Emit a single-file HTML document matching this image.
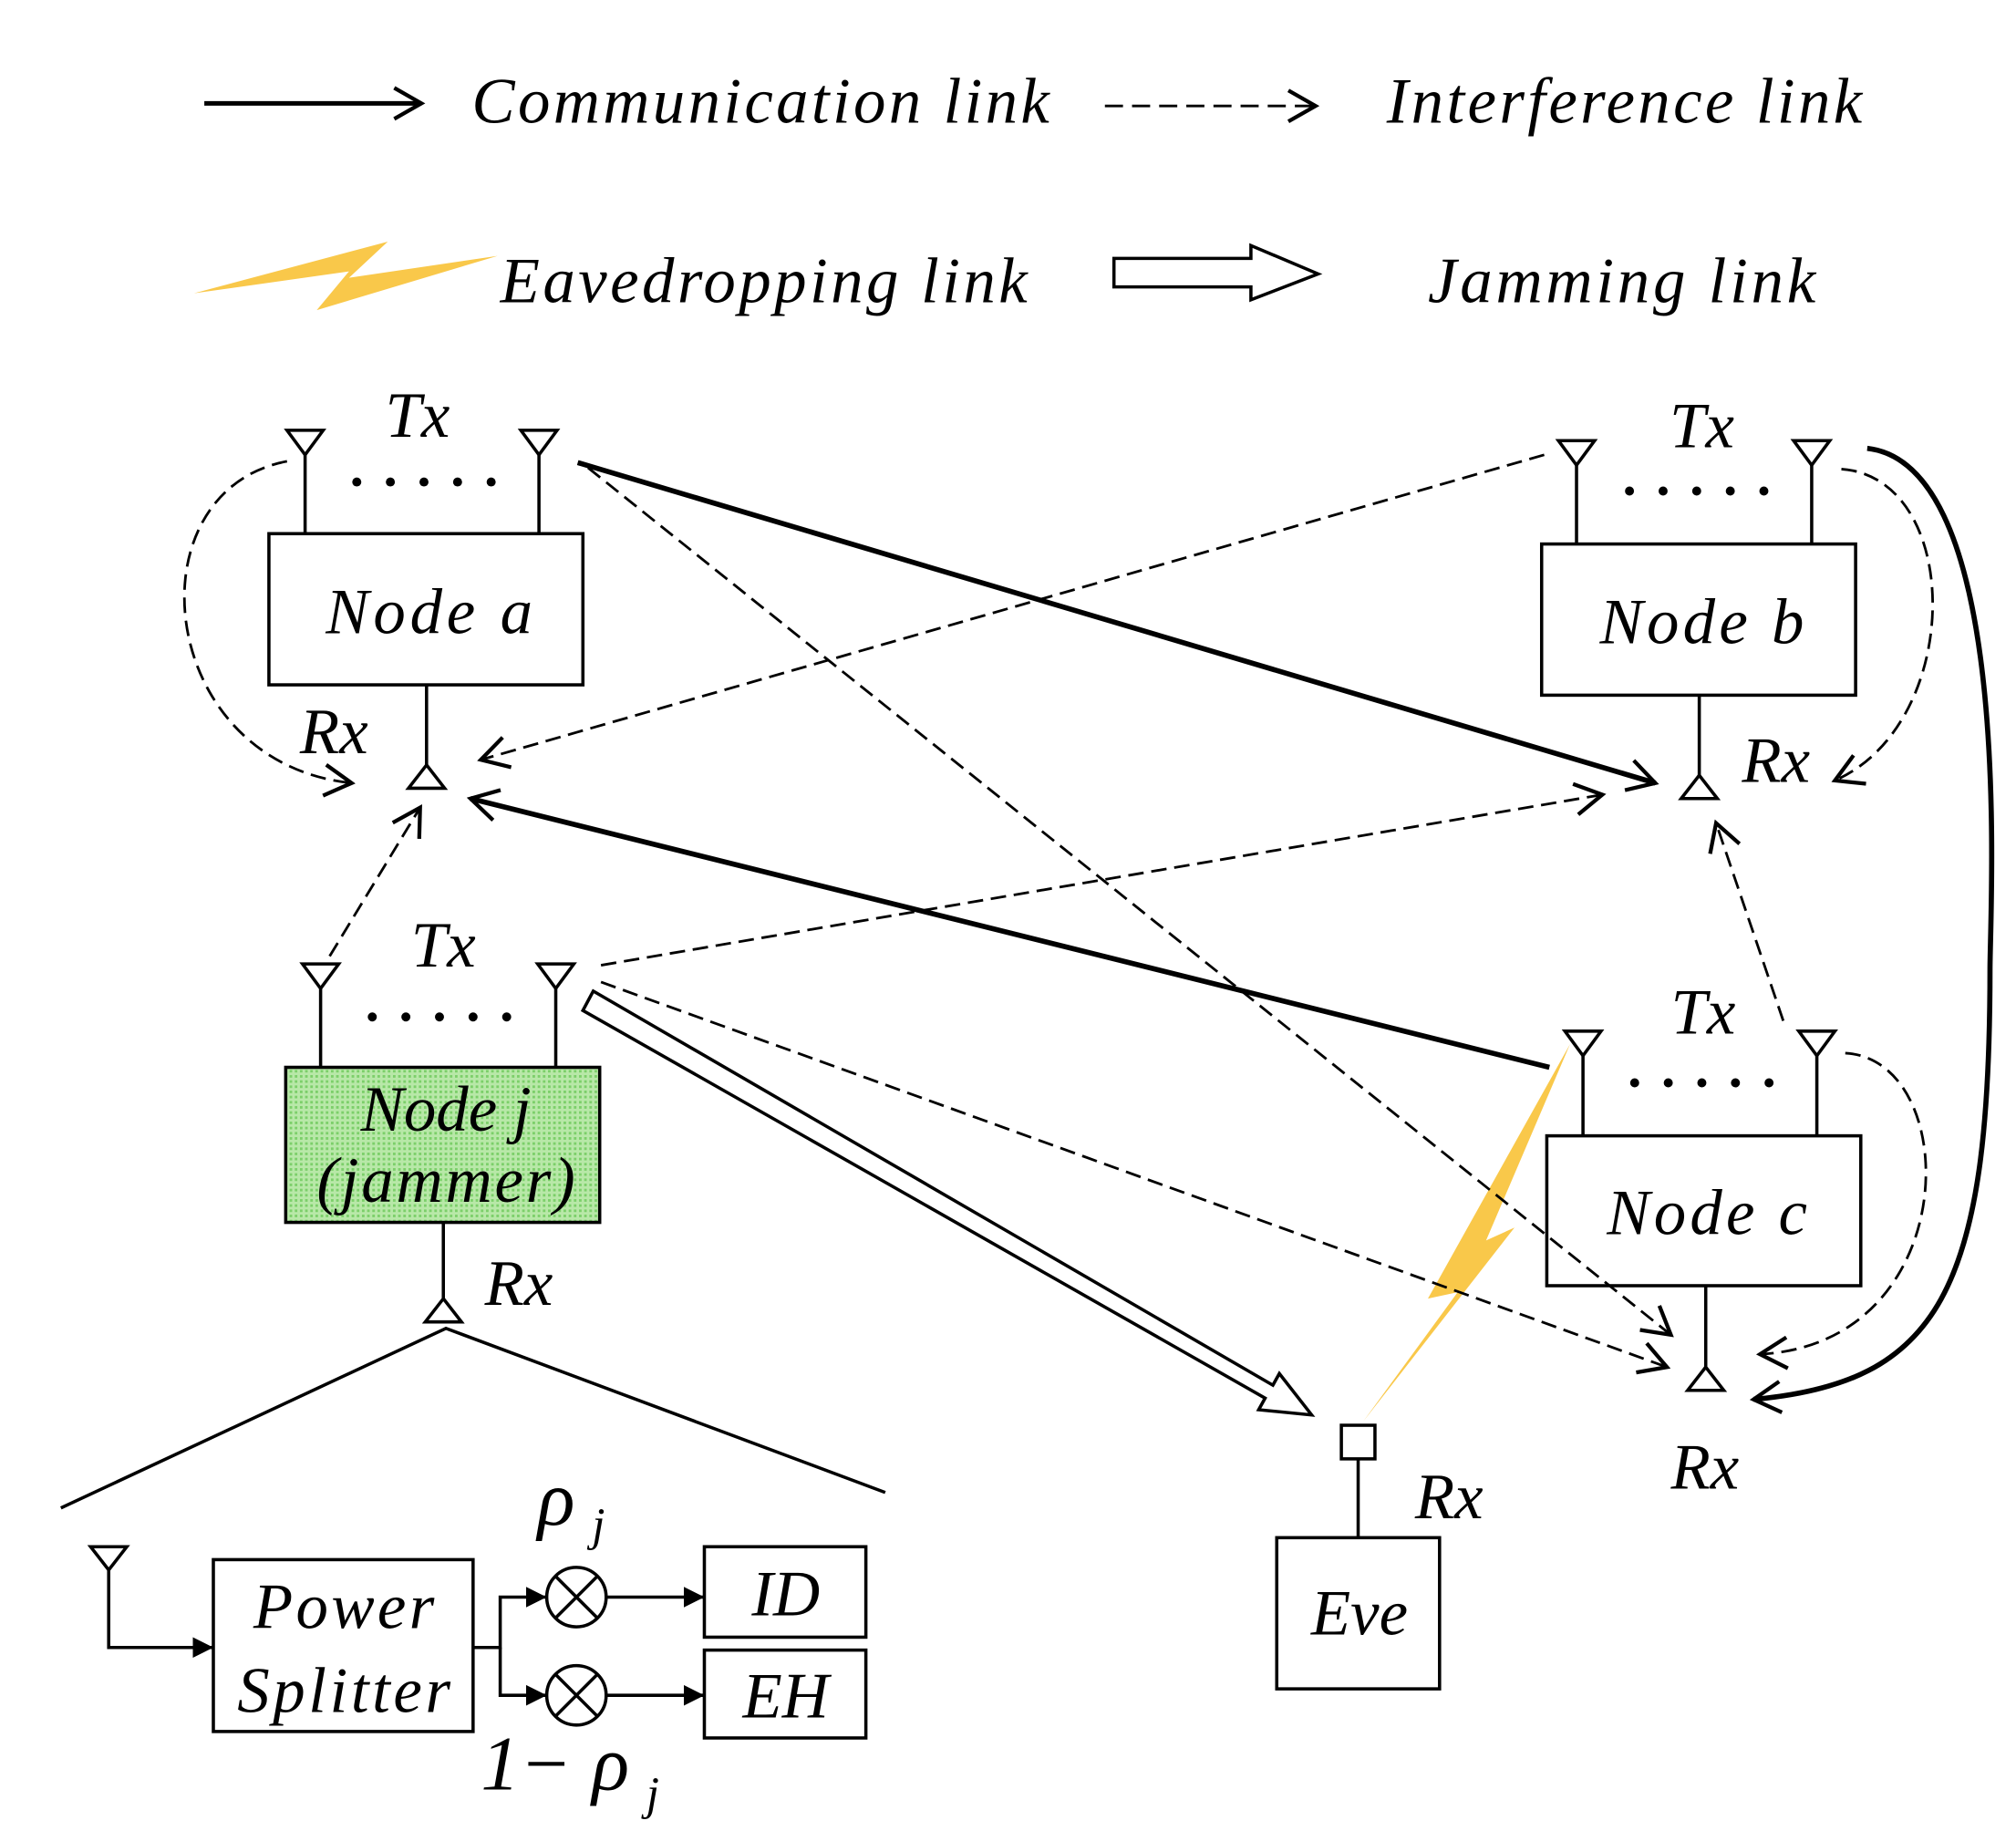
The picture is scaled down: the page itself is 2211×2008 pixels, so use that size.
<!DOCTYPE html>
<html><head><meta charset="utf-8"><style>
html,body{margin:0;padding:0;background:#fff;}
svg{display:block;}
text{font-family:"Liberation Serif",serif;font-style:italic;fill:#000;}
</style></head><body>
<svg width="2211" height="2008" viewBox="0 0 1560 1417" xmlns="http://www.w3.org/2000/svg">
<defs>
<marker id="opb" viewBox="0 0 20 20" refX="18" refY="10" markerWidth="30" markerHeight="30" orient="auto" markerUnits="userSpaceOnUse"><path d="M4,2 L18,10 L4,18" fill="none" stroke="#000" stroke-width="2"/></marker>
<marker id="fl" viewBox="0 0 10 10" refX="10" refY="5" markerWidth="16" markerHeight="16" orient="auto" markerUnits="userSpaceOnUse"><path d="M0,0 L10,5 L0,10 z" fill="#000"/></marker>
<pattern id="gr" width="4" height="4" patternUnits="userSpaceOnUse"><rect width="4" height="4" fill="#b8e8a8"/><rect width="2" height="2" fill="#7ccf6a"/></pattern>
</defs>
<g stroke="#000" fill="none">
<line x1="158" y1="80" x2="326" y2="80" stroke-width="3.5" marker-end="url(#opb)"/>
<line x1="855" y1="82" x2="1018" y2="82" stroke-width="2" stroke-dasharray="14,7" marker-end="url(#opb)"/>
<path d="M862,200 L968,200 L968,190 L1020,212 L968,232 L968,222 L862,222 Z" stroke-width="2.5"/>
</g>
<path d="M150,227 L300,187 L270,215 L385,198 L245,240 L270,210 Z" fill="#f9c84a"/>
<text x="365" y="95" font-size="50" textLength="447" lengthAdjust="spacing">Communication link</text>
<text x="1073" y="95" font-size="50" textLength="368" lengthAdjust="spacing">Interference link</text>
<text x="387" y="234" font-size="50" textLength="408" lengthAdjust="spacing">Eavedropping link</text>
<text x="1105" y="234" font-size="50" textLength="300" lengthAdjust="spacing">Jamming link</text>

<path d="M1215,808 L1150,960 L1172,950 L1055,1100 L1128,1000 L1105,1005 Z" fill="#f9c84a"/>

<g stroke="#000" fill="none" stroke-width="2.5">
<rect x="208" y="413" width="243" height="117"/>
<path d="M236,350 L236,413 M417,350 L417,413 M330,530 L330,592"/>
<path d="M222,333 L250,333 L236,352 Z M403,333 L431,333 L417,352 Z M330,592 L316,610 L344,610 Z"/>
<rect x="1193" y="421" width="243" height="117"/>
<path d="M1220,358 L1220,421 M1402,358 L1402,421 M1315,538 L1315,600"/>
<path d="M1206,341 L1234,341 L1220,360 Z M1388,341 L1416,341 L1402,360 Z M1315,600 L1301,618 L1329,618 Z"/>
<rect x="221" y="826" width="243" height="120" fill="url(#gr)"/>
<path d="M248,763 L248,826 M430,763 L430,826 M343,946 L343,1005"/>
<path d="M234,746 L262,746 L248,765 Z M416,746 L444,746 L430,765 Z M343,1005 L329,1023 L357,1023 Z"/>
<rect x="1197" y="879" width="243" height="116"/>
<path d="M1225,815 L1225,879 M1406,815 L1406,879 M1320,995 L1320,1058"/>
<path d="M1211,798 L1239,798 L1225,817 Z M1392,798 L1420,798 L1406,817 Z M1320,1058 L1306,1076 L1334,1076 Z"/>
<rect x="988" y="1190" width="126" height="117"/>
<rect x="1038" y="1103" width="26" height="26"/>
<path d="M1051,1129 L1051,1190"/>
</g>
<g fill="#000">
<circle cx="276" cy="373" r="3.5"/><circle cx="302" cy="373" r="3.5"/><circle cx="328" cy="373" r="3.5"/><circle cx="354" cy="373" r="3.5"/><circle cx="380" cy="373" r="3.5"/>
<circle cx="1261" cy="380" r="3.5"/><circle cx="1287" cy="380" r="3.5"/><circle cx="1313" cy="380" r="3.5"/><circle cx="1339" cy="380" r="3.5"/><circle cx="1365" cy="380" r="3.5"/>
<circle cx="288" cy="787" r="3.5"/><circle cx="314" cy="787" r="3.5"/><circle cx="340" cy="787" r="3.5"/><circle cx="366" cy="787" r="3.5"/><circle cx="392" cy="787" r="3.5"/>
<circle cx="1265" cy="838" r="3.5"/><circle cx="1291" cy="838" r="3.5"/><circle cx="1317" cy="838" r="3.5"/><circle cx="1343" cy="838" r="3.5"/><circle cx="1369" cy="838" r="3.5"/>
</g>
<g font-size="50">
<text x="298" y="338">Tx</text><text x="232" y="583">Rx</text>
<text x="1292" y="346">Tx</text><text x="1348" y="605">Rx</text>
<text x="318" y="748">Tx</text><text x="375" y="1010">Rx</text>
<text x="1293" y="800">Tx</text><text x="1293" y="1152">Rx</text>
<text x="1095" y="1175">Rx</text>
<text x="332" y="490" text-anchor="middle" textLength="160" lengthAdjust="spacing">Node a</text>
<text x="1317" y="498" text-anchor="middle" textLength="158" lengthAdjust="spacing">Node b</text>
<text x="1321" y="955" text-anchor="middle" textLength="155" lengthAdjust="spacing">Node c</text>
<text x="345" y="875" text-anchor="middle">Node j</text>
<text x="345" y="930" text-anchor="middle" textLength="200" lengthAdjust="spacing">(jammer)</text>
<text x="1052" y="1265" text-anchor="middle">Eve</text>
</g>

<g stroke="#000" fill="none">
<line x1="447" y1="358" x2="1281" y2="606" stroke-width="4" marker-end="url(#opb)"/>
<line x1="1199" y1="826" x2="364" y2="618" stroke-width="4" marker-end="url(#opb)"/>
<path d="M1445,347 C1560,360 1540,700 1540,750 C1540,1000 1500,1070 1357,1083" stroke-width="4" marker-end="url(#opb)"/>
<g stroke-width="2" stroke-dasharray="12,6">
<path d="M222,357 C100,380 120,590 272,606" marker-end="url(#opb)"/>
<path d="M1425,363 C1520,370 1520,560 1420,604" marker-end="url(#opb)"/>
<path d="M1428,815 C1520,820 1520,1040 1362,1048" marker-end="url(#opb)"/>
<line x1="455" y1="362" x2="1293" y2="1033" marker-end="url(#opb)"/>
<line x1="1195" y1="352" x2="372" y2="588" marker-end="url(#opb)"/>
<line x1="465" y1="747" x2="1240" y2="615" marker-end="url(#opb)"/>
<line x1="465" y1="760" x2="1290" y2="1058" marker-end="url(#opb)"/>
<line x1="255" y1="740" x2="325" y2="625" marker-end="url(#opb)"/>
<line x1="1380" y1="790" x2="1328" y2="637" marker-end="url(#opb)"/>
</g>
<path d="M459,767 L985,1072 L990,1063 L1015,1095 L974,1091 L979,1082 L451,782 Z" stroke-width="2.5" fill="#fff"/>
</g>

<g stroke="#000" fill="none" stroke-width="2.5">
<path d="M47,1167 L345,1028 L685,1155"/>
<path d="M70,1197 L98,1197 L84,1215 Z"/>
<path d="M84,1215 L84,1275 L165,1275" marker-end="url(#fl)"/>
<rect x="165" y="1207" width="201" height="133"/>
<path d="M366,1275 L387,1275 L387,1236 L423,1236" marker-end="url(#fl)"/>
<path d="M387,1275 L387,1312 L423,1312" marker-end="url(#fl)"/>
<circle cx="446" cy="1236" r="23"/><path d="M430,1220 L462,1252 M462,1220 L430,1252"/>
<circle cx="446" cy="1312" r="23"/><path d="M430,1296 L462,1328 M462,1296 L430,1328"/>
<path d="M469,1236 L545,1236" marker-end="url(#fl)"/>
<path d="M469,1312 L545,1312" marker-end="url(#fl)"/>
<rect x="545" y="1197" width="125" height="70"/>
<rect x="545" y="1277" width="125" height="68"/>
</g>
<g font-size="50">
<text x="266" y="1260" text-anchor="middle" textLength="140" lengthAdjust="spacing">Power</text>
<text x="266" y="1325" text-anchor="middle" textLength="165" lengthAdjust="spacing">Splitter</text>
<text x="608" y="1250" text-anchor="middle">ID</text>
<text x="608" y="1329" text-anchor="middle">EH</text>
<text x="416" y="1180" font-size="60">ρ</text>
<text x="458" y="1192" font-size="36" font-style="normal">j</text>
<text x="372" y="1385" font-size="60" font-style="normal">1−</text>
<text x="458" y="1385" font-size="60">ρ</text>
<text x="500" y="1400" font-size="36" font-style="normal">j</text>
</g>
</svg>
</body></html>
